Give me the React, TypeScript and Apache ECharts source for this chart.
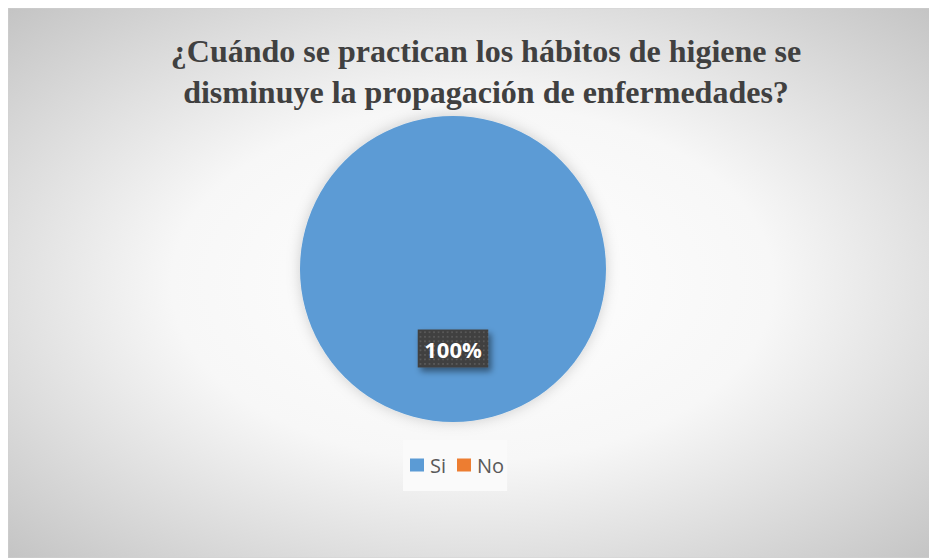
import React, { useEffect, useRef } from "react";
import * as echarts from "echarts";

const titleLines = [
  "¿Cuándo se practican los hábitos de higiene se",
  "disminuye la propagación de enfermedades?",
];
const categories = ["Si", "No"];
const values = [100, 0];
const colors = ["#5b9bd5", "#ed7d31"];

const W = 929;
const H = 550;

function makeDots(): string {
  const c = document.createElement("canvas");
  c.width = 78;
  c.height = 42;
  const ctx = c.getContext("2d");
  if (!ctx) return "";
  ctx.fillStyle = "#404040";
  ctx.fillRect(0, 0, c.width, c.height);
  ctx.fillStyle = "#585858";
  for (let y = 2; y < c.height; y += 5) {
    for (let x = 2; x < c.width; x += 5) {
      ctx.fillRect(x, y, 2, 2);
    }
  }
  return c.toDataURL();
}

export default function App() {
  const ref = useRef<HTMLDivElement>(null);
  useEffect(() => {
    if (!ref.current) return;
    const chart = echarts.init(ref.current, null, { renderer: "svg" });
    const dots = makeDots();
    chart.setOption({
      animation: false,
      graphic: [
        {
          type: "rect",
          x: 0,
          y: 0,
          scaleY: H / W,
          z: -10,
          silent: true,
          shape: { x: 0, y: 0, width: W, height: W },
          style: {
            fill: {
              type: "radial",
              x: 0.5,
              y: 0.5,
              r: 0.72,
              colorStops: [
                { offset: 0, color: "#ffffff" },
                { offset: 0.45, color: "#f7f7f7" },
                { offset: 1, color: "#c2c2c2" },
              ],
            },
            stroke: "#d0d0d0",
            lineWidth: 1,
          },
        },
      ],
      title: {
        text: titleLines.join("\n"),
        left: 473,
        top: 17,
        textAlign: "center",
        textStyle: {
          fontFamily: "'Liberation Serif', 'Times New Roman', serif",
          fontWeight: "bold",
          fontSize: 32,
          lineHeight: 41,
          color: "#404040",
        },
      },
      legend: {
        data: categories,
        left: 395,
        top: 432,
        padding: [15, 3, 16, 7],
        backgroundColor: "#fafafa",
        itemWidth: 14,
        itemHeight: 13,
        itemGap: 11,
        icon: "rect",
        textStyle: {
          fontFamily: "'Open Sans', 'Liberation Sans', sans-serif",
          fontSize: 20,
          color: "#595959",
          padding: [0, 0, 0, 1],
        },
      },
      series: [
        {
          type: "pie",
          center: [445, 261],
          radius: [0, 153],
          startAngle: 90,
          clockwise: true,
          stillShowZeroSum: true,
          data: categories.map((c, i) => ({
            name: c,
            value: values[i],
            itemStyle: { color: colors[i] },
            label: { show: values[i] > 0 },
          })),
          itemStyle: {
            shadowBlur: 14,
            shadowColor: "rgba(0,0,0,0.18)",
          },
          labelLine: { show: false },
          label: {
            show: true,
            position: "inside",
            formatter: (p: any) => `${Math.round(p.percent)}%`,
            fontFamily: "'Open Sans', 'Liberation Sans', sans-serif",
            fontWeight: "bold",
            fontSize: 22,
            color: "#ffffff",
            backgroundColor: dots ? { image: dots } : "#404040",
            padding: [9, 10, 7, 10],
            shadowBlur: 6,
            shadowColor: "rgba(0,0,0,0.45)",
            shadowOffsetX: 3,
            shadowOffsetY: 4,
          },
          emphasis: { disabled: true },
        },
      ],
    });
    return () => chart.dispose();
  }, []);
  return <div ref={ref} style={{ width: W, height: H }} />;
}
